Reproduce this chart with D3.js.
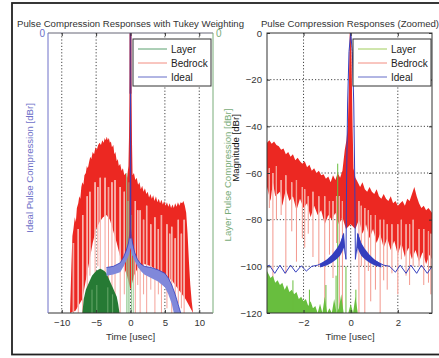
<!DOCTYPE html>
<html>
<head>
<meta charset="utf-8">
<script src="https://cdn.jsdelivr.net/npm/d3@7"></script>
<style>
body { margin: 0; background: #fff; }
text { font-family: "Liberation Sans", Arial, sans-serif; }
</style>
</head>
<body>
<svg id="world" width="439" height="358"></svg>
<script>
// Data (time in usec, level in dBr)
var seriesNames = ["Layer", "Bedrock", "Ideal"];
var xTicksL = [-10, -5, 0, 5, 10];
var xTicksR = [-2, 0, 2];
var yTicksR = [0, -20, -40, -60, -80, -100, -120];

// left panel: Tukey weighting
var bedTopL = [[-8.8,-120],[-8.6,-100],[-8.45,-87],[-8.3,-84],[-8.1,-79],[-7.95,-81],[-7.8,-75],[-7.6,-73],[-7.45,-70],[-7.3,-71],[-7.15,-66],[-7.0,-64],[-6.85,-65],[-6.7,-61],[-6.5,-60],[-6.35,-57],[-6.2,-58],[-6.0,-55],[-5.85,-53],[-5.7,-54],[-5.5,-51],[-5.3,-52],[-5.1,-49],[-4.9,-50],[-4.7,-48],[-4.5,-47],[-4.3,-48],[-4.1,-46],[-3.9,-47],[-3.75,-45],[-3.6,-46],[-3.45,-44.5],[-3.3,-46],[-3.15,-45],[-3.0,-47],[-2.85,-46.5],[-2.7,-49],[-2.5,-48],[-2.35,-52],[-2.2,-51],[-2.0,-55],[-1.85,-54],[-1.7,-57],[-1.5,-56],[-1.3,-59],[-1.1,-58],[-0.9,-61],[-0.7,-60],[-0.5,-62],[-0.3,-57],[-0.12,-30],[0,0],[0.12,-30],[0.3,-61],[0.5,-60],[0.7,-63],[0.9,-62],[1.1,-65],[1.3,-64],[1.5,-67],[1.7,-65.5],[1.9,-68],[2.1,-66.5],[2.3,-69],[2.5,-68],[2.7,-70.5],[2.9,-69],[3.1,-71],[3.3,-69.5],[3.5,-72],[3.7,-70],[3.9,-72.5],[4.1,-71],[4.3,-73],[4.5,-71.5],[4.7,-73.5],[4.9,-72],[5.1,-74],[5.3,-72.5],[5.5,-74.5],[5.7,-73],[5.9,-75],[6.1,-73.5],[6.3,-75],[6.5,-73],[6.7,-74.5],[6.9,-72.5],[7.1,-74],[7.3,-72.5],[7.5,-73],[7.7,-72],[7.9,-74],[8.1,-77],[8.3,-86],[8.5,-98],[8.7,-108],[8.9,-115],[9.1,-120]];
var bedBotL = [[-8.8,-120],[-8,-119],[-7,-114],[-6.5,-106],[-6,-98],[-5.5,-90],[-5,-84],[-4.5,-81],[-4,-79],[-3.5,-78],[-3,-80],[-2.5,-85],[-2,-90],[-1.5,-96],[-1,-100],[-0.5,-104],[0,-110],[0.5,-104],[1,-101],[2,-99],[3,-100],[4,-102],[5,-104],[6,-106],[7,-110],[8,-114],[9.1,-120]];
var bedSpikesL = [[-8.3,-90,-120],[-7.6,-84,-120],[-6.95,-78,-120],[-6.3,-70,-118],[-5.9,-68,-104],[-5.15,-64,-120],[-4.75,-66,-100],[-4.4,-62,-115],[-3.7,-62,-120],[-3.2,-66,-120],[-2.7,-64,-110],[-2.25,-63,-120],[-1.5,-66,-120],[-0.9,-68,-112],[0.7,-72,-120],[1.05,-76,-108],[1.4,-76,-120],[1.9,-80,-112],[2.35,-74,-120],[2.95,-82,-110],[3.55,-79,-120],[4.05,-84,-112],[4.5,-78,-120],[5.3,-82,-118],[5.7,-86,-112],[6.0,-83,-120],[6.5,-88,-114],[6.95,-80,-116],[7.4,-86,-118],[7.8,-80,-120]];
var layerTopL = [[-7.0,-120],[-6.8,-114],[-6.5,-110],[-6.2,-108],[-5.9,-106],[-5.6,-104],[-5.3,-103],[-5.0,-102],[-4.7,-101.5],[-4.4,-101],[-4.1,-101.5],[-3.8,-102],[-3.5,-103],[-3.2,-105],[-2.9,-107],[-2.6,-109],[-2.3,-111],[-2.0,-113],[-1.8,-116],[-1.6,-120]];
var layerGapsL = [[-5.6,-110,-120],[-4.9,-108,-120],[-3.3,-109,-120],[-2.6,-112,-120]];
var layerSpikesL = [[-0.55,-60,-120],[-0.35,-72,-120],[-0.2,-64,-120],[0.15,-78,-120],[0.4,-96,-120]];
var idealTopL = [[-3.5,-100.5],[-2.5,-100],[-1.5,-98.5],[-1,-96],[-0.6,-93],[-0.3,-90],[-0.1,-86],[0,-84],[0.1,-86],[0.3,-90],[0.6,-94],[1,-97],[1.5,-99],[2,-100],[3,-100.5],[4,-101.5],[5,-103],[5.5,-105],[6,-108],[6.5,-112],[7,-117],[7.3,-120]];
var idealBotL = [[-3.5,-104],[-2.5,-103.5],[-1.5,-102.5],[-1,-100],[-0.5,-97],[-0.2,-95],[0,-92],[0.2,-95],[0.5,-97],[1,-100],[1.5,-102],[2,-103.5],[3,-105],[4,-106.5],[5,-109],[5.5,-112],[6,-116],[6.3,-120]];
var peakL = [[-0.05,-88],[0,0],[0.05,-88]];

// right panel: zoomed
var bedTopR = [[-3.55,-47],[-3.45,-46],[-3.35,-47.5],[-3.25,-46.5],[-3.15,-48],[-3.05,-48.5],[-2.95,-50],[-2.85,-49.5],[-2.75,-52],[-2.65,-51],[-2.55,-53],[-2.45,-52],[-2.35,-54.5],[-2.25,-53.5],[-2.15,-55],[-2.05,-56],[-1.95,-55],[-1.85,-57.5],[-1.75,-56.5],[-1.65,-59],[-1.55,-58],[-1.45,-60],[-1.35,-59],[-1.25,-61],[-1.15,-60.5],[-1.05,-62.5],[-0.95,-61.5],[-0.85,-64],[-0.75,-61],[-0.65,-63],[-0.55,-60],[-0.45,-62],[-0.35,-59],[-0.25,-50],[-0.18,-46],[-0.12,-40],[-0.07,-20],[-0.04,0],[0.02,0],[0.05,-20],[0.08,-40],[0.12,-58],[0.2,-62],[0.3,-64],[0.4,-66],[0.5,-64],[0.6,-67],[0.7,-68],[0.8,-66],[0.9,-68],[1.0,-69],[1.1,-67],[1.2,-70],[1.3,-71],[1.4,-69],[1.5,-71],[1.6,-72],[1.7,-70],[1.8,-73],[1.9,-72],[2.0,-74],[2.1,-73],[2.2,-72],[2.3,-74],[2.4,-71],[2.5,-72],[2.6,-69],[2.7,-66],[2.8,-70],[2.9,-73],[3.0,-75],[3.1,-74],[3.2,-76],[3.3,-75],[3.45,-77]];
var bedBotR = [[-3.55,-66],[-3.4,-72],[-3.3,-64],[-3.2,-70],[-3.0,-68],[-2.9,-74],[-2.75,-67],[-2.6,-72],[-2.45,-70],[-2.3,-76],[-2.15,-71],[-2.0,-75],[-1.85,-73],[-1.7,-79],[-1.55,-74],[-1.4,-78],[-1.25,-76],[-1.1,-82],[-0.95,-78],[-0.8,-80],[-0.65,-77],[-0.5,-82],[-0.35,-79],[-0.2,-84],[0,-82],[0.2,-84],[0.35,-80],[0.5,-86],[0.65,-82],[0.8,-88],[0.95,-84],[1.1,-90],[1.25,-86],[1.4,-92],[1.55,-88],[1.7,-93],[1.85,-89],[2.0,-95],[2.15,-90],[2.3,-96],[2.45,-92],[2.6,-97],[2.75,-93],[2.9,-98],[3.05,-94],[3.2,-99],[3.35,-95],[3.45,-97]];
var bedSpikesR = [[-3.45,-58,-75],[-3.3,-60,-110],[-3.15,-57,-80],[-2.95,-63,-78],[-2.75,-61,-103],[-2.5,-64,-85],[-2.3,-63,-98],[-2.05,-66,-88],[-1.95,-67,-92],[-1.8,-70,-86],[-1.6,-68,-96],[-1.35,-70,-100],[-1.1,-70,-120],[-0.9,-72,-95],[-0.75,-72,-105],[-0.6,-70,-90],[-0.48,-70,-120],[-0.35,-72,-120],[0.35,-72,-120],[0.45,-74,-100],[0.6,-75,-120],[0.75,-76,-102],[0.85,-78,-115],[1.05,-78,-110],[1.25,-80,-120],[1.4,-80,-106],[1.55,-82,-110],[1.75,-82,-103],[2.0,-82,-112],[2.15,-80,-97],[2.35,-82,-104],[2.5,-82,-108],[2.65,-80,-100],[2.9,-84,-100],[3.1,-84,-108],[3.3,-85,-107],[3.4,-86,-112]];
var layerTopR = [[-3.55,-102],[-3.4,-105],[-3.3,-104],[-3.2,-107],[-3.1,-106],[-3.0,-108],[-2.9,-107],[-2.8,-110],[-2.7,-108],[-2.6,-111],[-2.5,-110],[-2.4,-112],[-2.3,-111],[-2.2,-114],[-2.1,-113],[-2.0,-115],[-1.9,-114],[-1.8,-117],[-1.7,-115],[-1.6,-118],[-1.5,-117],[-1.4,-120],[-1.3,-116],[-1.2,-120],[-1.1,-113],[-1.0,-120],[-0.9,-118],[-0.8,-120],[-0.7,-114],[-0.6,-120],[-0.5,-118],[-0.4,-112],[-0.3,-120],[-0.1,-120],[0.0,-116],[0.1,-120],[0.2,-113],[0.3,-120]];
var layerSpikesR = [[-0.55,-56,-120],[-0.62,-104,-120],[-1.05,-108,-120],[-0.2,-100,-120],[0.22,-110,-120],[-2.45,-106,-120],[-1.75,-110,-120]];
var idealLineR = [[-3.55,-100],[-3.45,-99.5],[-3.22,-103],[-3.0,-99.5],[-2.78,-103],[-2.55,-99.5],[-2.33,-102.5],[-2.1,-99.8],[-1.88,-102],[-1.65,-100],[-1.4,-99.5],[-1.2,-98.5],[-1.0,-97.5],[-0.8,-96],[-0.6,-94],[-0.45,-91],[-0.35,-88],[-0.3,-86],[-0.25,-93],[-0.2,-97],[-0.17,-60],[-0.13,-30],[-0.07,-8],[0,0],[0.07,-8],[0.13,-30],[0.17,-60],[0.2,-97],[0.25,-93],[0.3,-86],[0.35,-88],[0.45,-91],[0.6,-94],[0.8,-96],[1.0,-97.5],[1.2,-98.5],[1.4,-99.5],[1.65,-100],[1.9,-102.5],[2.1,-99.5],[2.35,-103],[2.55,-99.5],[2.8,-103],[3.0,-99.5],[3.25,-103],[3.45,-100]];
var idealBandR = [[-1.3,-99,-100.5],[-1.0,-97,-99.5],[-0.8,-95,-98.5],[-0.6,-92.5,-97],[-0.45,-90,-95.5],[-0.35,-87,-93.5],[-0.3,-85.5,-92],[-0.27,-90,-95],[0.27,-90,-95],[0.3,-85.5,-92],[0.35,-87,-93.5],[0.45,-90,-95.5],[0.6,-92.5,-97],[0.8,-95,-98.5],[1.0,-97,-99.5],[1.3,-99,-100.5]];

var s = d3.select("#world");
s.append("rect").attr("width", 439).attr("height", 358).attr("fill", "#fff");
// outer frame
s.append("rect").attr("x", 12).attr("y", 3).attr("width", 440).attr("height", 351.5)
  .attr("fill", "none").attr("stroke", "#222").attr("stroke-width", 1.8);

var yTop = 33, yBot = 313;
var xL = d3.scaleLinear().domain([-12, 12]).range([48, 213]);
var xR = d3.scaleLinear().domain([-3.55, 3.45]).range([267, 432]);
var yS = d3.scaleLinear().domain([-120, 0]).range([yBot, yTop]);

var RED = "rgb(236,40,34)", LRED = "rgb(242,140,128)", DGREEN = "rgb(38,122,52)",
    LGREEN = "rgb(104,190,62)", BLUE = "rgb(52,62,190)", LBLUE = "rgb(128,136,218)";

var defs = s.append("defs");
defs.append("clipPath").attr("id", "cl").append("rect").attr("x", 48).attr("y", yTop).attr("width", 165).attr("height", yBot - yTop);
defs.append("clipPath").attr("id", "cr").append("rect").attr("x", 267).attr("y", yTop).attr("width", 165).attr("height", yBot - yTop);

function band(g, x, upper, lower, fill) {
  var pts = upper.concat(lower.slice().reverse());
  var ln = d3.line().x(function(d) { return x(d[0]); }).y(function(d) { return yS(d[1]); });
  g.append("path").attr("d", ln(pts) + "Z").attr("fill", fill);
}
function spikes(g, x, data, color, w, gap) {
  if (gap) {
    g.append("g").selectAll("line").data(data).join("line")
      .attr("x1", function(d) { return x(d[0]); }).attr("x2", function(d) { return x(d[0]); })
      .attr("y1", function(d) { return yS(d[1]); }).attr("y2", function(d) { return yS(d[2]); })
      .attr("stroke", "#fff").attr("stroke-width", gap);
  }
  g.append("g").selectAll("line").data(data).join("line")
    .attr("x1", function(d) { return x(d[0]); }).attr("x2", function(d) { return x(d[0]); })
    .attr("y1", function(d) { return yS(d[1]); }).attr("y2", function(d) { return yS(d[2]); })
    .attr("stroke", color).attr("stroke-width", w);
}
function line(g, x, data, color, w) {
  var ln = d3.line().x(function(d) { return x(d[0]); }).y(function(d) { return yS(d[1]); });
  g.append("path").attr("d", ln(data)).attr("fill", "none").attr("stroke", color).attr("stroke-width", w);
}
var floorR = [[-3.55, -120], [3.45, -120]];

// ---------- left panel ----------
var gl = s.append("g");
gl.selectAll(".gx").data(xTicksL).join("line")
  .attr("x1", function(d) { return xL(d); }).attr("x2", function(d) { return xL(d); })
  .attr("y1", yTop).attr("y2", yBot).attr("stroke", "#444").attr("stroke-width", 1).attr("stroke-dasharray", "1.2,2");
var dl = gl.append("g").attr("clip-path", "url(#cl)");
band(dl, xL, bedTopL, bedBotL, RED);
spikes(dl, xL, bedSpikesL, LRED, 0.8, 1.4);
band(dl, xL, layerTopL, [[-7.0, -120], [-1.6, -120]], DGREEN);
spikes(dl, xL, layerGapsL, "rgb(120,180,120)", 0.8, 0);
spikes(dl, xL, layerSpikesL, "rgb(150,205,150)", 1, 0);
band(dl, xL, idealTopL, idealBotL, LBLUE);
line(dl, xL, idealTopL, BLUE, 0.8);
line(dl, xL, peakL, RED, 1.6);
line(dl, xL, peakL, BLUE, 0.9);
line(dl, xL, [[0, 0], [0, -26]], "rgb(105,45,120)", 1.8);

// left panel frame: blue left axis, green right axis
gl.append("line").attr("x1", 48).attr("x2", 213).attr("y1", yTop).attr("y2", yTop).attr("stroke", "#667");
gl.append("line").attr("x1", 48).attr("x2", 213).attr("y1", yBot).attr("y2", yBot).attr("stroke", "#333");
gl.append("line").attr("x1", 48).attr("x2", 48).attr("y1", yTop).attr("y2", yBot).attr("stroke", "rgb(110,112,200)");
gl.append("line").attr("x1", 213).attr("x2", 213).attr("y1", yTop).attr("y2", yBot).attr("stroke", "rgb(120,172,120)");
var axL = gl.append("g").attr("transform", "translate(0," + yBot + ")")
  .call(d3.axisBottom(xL).tickValues(xTicksL).tickSize(-3).tickPadding(6).tickFormat(d3.format("d")));
axL.select(".domain").remove();
gl.append("g").attr("transform", "translate(0," + yTop + ")")
  .call(d3.axisTop(xL).tickValues(xTicksL).tickSize(-3).tickFormat("")).select(".domain").remove();
gl.append("text").attr("x", 45).attr("y", 37).attr("text-anchor", "end").attr("font-size", 10).attr("fill", "rgb(110,112,200)").text("0");
gl.append("text").attr("x", 216).attr("y", 37).attr("font-size", 10).attr("fill", "rgb(120,172,120)").text("0");
gl.append("text").attr("transform", "translate(33,168) rotate(-90)").attr("text-anchor", "middle")
  .attr("font-size", 9.6).attr("fill", "rgb(110,112,200)").text("Ideal Pulse Compression [dBr]");
gl.append("text").attr("transform", "translate(231,175) rotate(-90)").attr("text-anchor", "middle")
  .attr("font-size", 9.6).attr("fill", "rgb(120,172,120)").text("Layer Pulse Compression [dBr]");
gl.append("text").attr("x", 130.5).attr("y", 27).attr("text-anchor", "middle").attr("font-size", 9.6).attr("fill", "#333")
  .text("Pulse Compression Responses with Tukey Weighting");
gl.append("text").attr("x", 130.5).attr("y", 340).attr("text-anchor", "middle").attr("font-size", 9.6).attr("fill", "#333").text("Time [usec]");

// ---------- right panel ----------
var gr = s.append("g");
gr.selectAll(".gx").data(xTicksR).join("line")
  .attr("x1", function(d) { return xR(d); }).attr("x2", function(d) { return xR(d); })
  .attr("y1", yTop).attr("y2", yBot).attr("stroke", "#444").attr("stroke-dasharray", "1.2,2");
gr.selectAll(".gy").data(yTicksR.slice(1, 6)).join("line")
  .attr("x1", 267).attr("x2", 432)
  .attr("y1", function(d) { return yS(d); }).attr("y2", function(d) { return yS(d); })
  .attr("stroke", "#444").attr("stroke-dasharray", "1.2,2");
var dr = gr.append("g").attr("clip-path", "url(#cr)");
band(dr, xR, bedTopR, bedBotR, RED);
spikes(dr, xR, bedSpikesR, LRED, 0.9, 1.2);
band(dr, xR, layerTopR, floorR, LGREEN);
spikes(dr, xR, layerSpikesR, LGREEN, 1, 0);
line(dr, xR, idealLineR, BLUE, 1);
band(dr, xR, idealBandR.slice(0, 8).map(function(d) { return [d[0], d[1]]; }),
  idealBandR.slice(0, 8).map(function(d) { return [d[0], d[2]]; }), BLUE);
band(dr, xR, idealBandR.slice(8).map(function(d) { return [d[0], d[1]]; }),
  idealBandR.slice(8).map(function(d) { return [d[0], d[2]]; }), BLUE);

gr.append("rect").attr("x", 267).attr("y", yTop).attr("width", 165).attr("height", yBot - yTop)
  .attr("fill", "none").attr("stroke", "#333");
var axR = gr.append("g").attr("transform", "translate(0," + yBot + ")")
  .call(d3.axisBottom(xR).tickValues(xTicksR).tickSize(-3).tickPadding(6).tickFormat(d3.format("d")));
axR.select(".domain").remove();
gr.append("g").attr("transform", "translate(0," + yTop + ")")
  .call(d3.axisTop(xR).tickValues(xTicksR).tickSize(-3).tickFormat("")).select(".domain").remove();
var ayR = gr.append("g").attr("transform", "translate(267,0)")
  .call(d3.axisLeft(yS).tickValues(yTicksR).tickSize(-3).tickPadding(5).tickFormat(d3.format("d")));
ayR.select(".domain").remove();
gr.append("g").attr("transform", "translate(432,0)")
  .call(d3.axisRight(yS).tickValues(yTicksR).tickSize(-3).tickFormat("")).select(".domain").remove();
gr.append("text").attr("transform", "translate(239,148) rotate(-90)").attr("text-anchor", "middle")
  .attr("font-size", 9.6).attr("fill", "#111").text("Magnitude [dBr]");
gr.append("text").attr("x", 350).attr("y", 27).attr("text-anchor", "middle").attr("font-size", 9.6).attr("fill", "#333")
  .text("Pulse Compression Responses (Zoomed)");
gr.append("text").attr("x", 350).attr("y", 340).attr("text-anchor", "middle").attr("font-size", 9.6).attr("fill", "#333").text("Time [usec]");

s.selectAll(".tick text").attr("font-size", 9.6).attr("fill", "#333").attr("font-family", "Liberation Sans, Arial, sans-serif");
s.selectAll(".tick line").attr("stroke", "#333");

// ---------- legends ----------
function legend(x0, colors) {
  var g = s.append("g").attr("transform", "translate(" + x0 + ",39)");
  g.append("rect").attr("width", 78).attr("height", 47).attr("fill", "#fff").attr("stroke", "#333");
  var row = g.selectAll(".row").data(seriesNames).join("g")
    .attr("transform", function(d, i) { return "translate(0," + (10 + i * 14) + ")"; });
  row.append("line").attr("x1", 5).attr("x2", 34).attr("stroke", function(d, i) { return colors[i]; }).attr("stroke-width", 1);
  row.append("text").attr("x", 38).attr("y", 3.5).attr("font-size", 10).attr("fill", "#222").text(function(d) { return d; });
}
legend(133, ["rgb(90,160,110)", LRED, "rgb(100,108,200)"]);
legend(353, ["rgb(160,205,90)", LRED, "rgb(100,108,200)"]);
</script>
</body>
</html>
